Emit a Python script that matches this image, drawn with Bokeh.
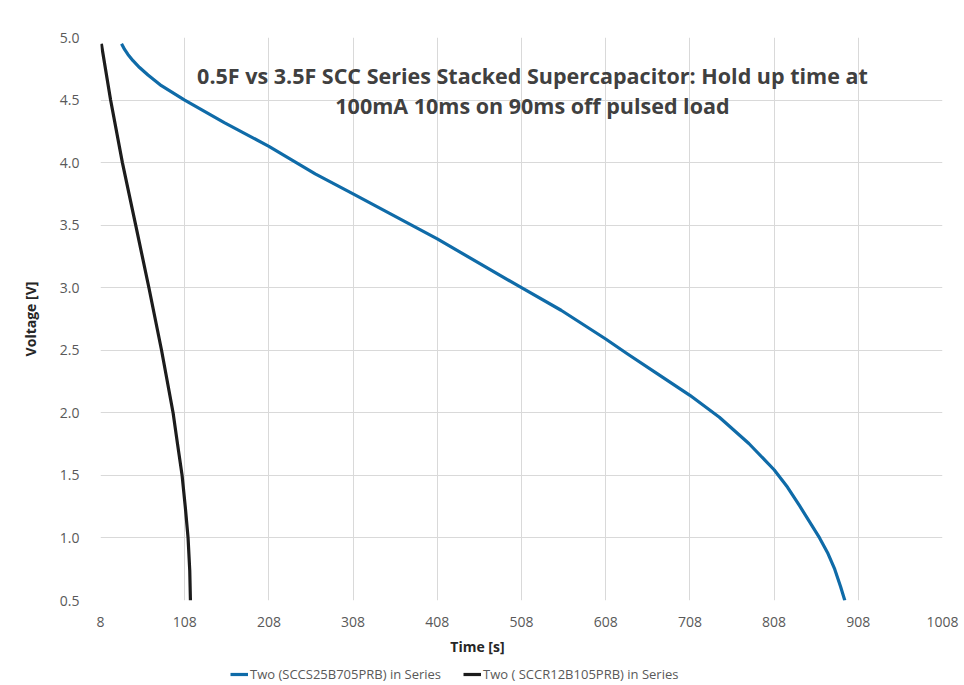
from bokeh.plotting import figure
from bokeh.layouts import column
from bokeh.models import Range1d, FixedTicker, PrintfTickFormatter, Legend, LegendItem, Label
from bokeh.embed import file_html
from bokeh.resources import INLINE

# ---- data ----
blue_t = [33.0, 36.6, 40.6, 46.6, 54.4, 64.4, 80.3, 108, 155, 208, 263, 308, 408, 508, 555, 608,
          634, 670, 708, 743, 778, 808, 824, 838, 862, 872, 880, 887, 892]
blue_v = [4.95, 4.905, 4.865, 4.815, 4.76, 4.70, 4.615, 4.50, 4.32, 4.13, 3.91, 3.75, 3.39, 3.00, 2.82, 2.59,
          2.47, 2.31, 2.14, 1.965, 1.755, 1.545, 1.405, 1.26, 1.00, 0.875, 0.75, 0.61, 0.50]

black_t = [9.0, 20.0, 34.0, 49.8, 65.5, 80.5, 94.2, 99.5, 104.9, 108.8, 112.0, 114.0, 114.8]
black_v = [4.95, 4.50, 4.00, 3.50, 3.00, 2.50, 2.00, 1.75, 1.50, 1.24, 1.00, 0.74, 0.50]

x_ticks = [8, 108, 208, 308, 408, 508, 608, 708, 808, 908, 1008]
y_ticks = [0.5, 1.0, 1.5, 2.0, 2.5, 3.0, 3.5, 4.0, 4.5, 5.0]

blue_name = "Two (SCCS25B705PRB) in Series"
black_name = "Two ( SCCR12B105PRB) in Series"
title1 = "0.5F vs 3.5F SCC Series Stacked Supercapacitor: Hold up time at"
title2 = "100mA 10ms on 90ms off pulsed load"
x_label = "Time [s]"
y_label = "Voltage [V]"

FONT = "Open Sans"
BLUE = "#0f6ba8"
BLACK = "#1c1c1c"

# ---------------- main chart ----------------
p = figure(width=964, height=634, output_backend="svg", toolbar_location=None,
           x_range=Range1d(8, 1008), y_range=Range1d(0.5, 5.0),
           min_border_left=100, min_border_right=22, min_border_top=37, min_border_bottom=34)
p.outline_line_color = None
p.background_fill_color = "white"
p.border_fill_color = "white"

for ax in (p.xaxis[0], p.yaxis[0]):
    ax.axis_line_color = None
    ax.major_tick_line_color = None
    ax.minor_tick_line_color = None
    ax.major_label_text_font = FONT
    ax.major_label_text_font_size = "14px"
    ax.major_label_text_color = "#595959"

p.xaxis[0].ticker = FixedTicker(ticks=x_ticks)
p.yaxis[0].ticker = FixedTicker(ticks=y_ticks)
p.yaxis[0].formatter = PrintfTickFormatter(format="%.1f")
p.xaxis[0].major_label_standoff = 10
p.yaxis[0].major_label_standoff = 15

p.yaxis[0].axis_label = y_label
p.yaxis[0].axis_label_text_font = FONT
p.yaxis[0].axis_label_text_font_style = "bold"
p.yaxis[0].axis_label_text_font_size = "14px"
p.yaxis[0].axis_label_text_color = "#262626"
p.yaxis[0].axis_label_standoff = 17

p.xgrid[0].ticker = FixedTicker(ticks=x_ticks)
p.ygrid[0].ticker = FixedTicker(ticks=y_ticks)
for g in (p.xgrid[0], p.ygrid[0]):
    g.grid_line_color = "#d9d9d9"
    g.grid_line_width = 1

p.line(blue_t, blue_v, line_color=BLUE, line_width=3.2, line_join="round")
p.line(black_t, black_v, line_color=BLACK, line_width=3.2, line_join="round")

for txt, yv in ((title1, 4.70), (title2, 4.46)):
    p.add_layout(Label(x=521, y=yv, text=txt, text_align="center", text_baseline="middle",
                       text_font=FONT, text_font_style="bold", text_font_size="21.5px",
                       text_color="#404040"))

# ---------------- strip below: axis title + legend ----------------
# y range of the strip lies far above the data, so the legend proxies below stay out of view
q = figure(width=964, height=51, output_backend="svg", toolbar_location=None,
           x_range=Range1d(8, 1008), y_range=Range1d(100, 151),
           x_axis_type=None, y_axis_type=None,
           min_border_left=100, min_border_right=22, min_border_top=0, min_border_bottom=0)
q.outline_line_color = None
q.grid.visible = False
q.background_fill_color = "white"
q.border_fill_color = "white"

q.add_layout(Label(x=455.7, y=139, text=x_label, text_align="center", text_baseline="middle",
                   text_font=FONT, text_font_style="bold", text_font_size="14px",
                   text_color="#262626"))

lb = q.line(blue_t, blue_v, line_color=BLUE, line_width=3.2)
lk = q.line(black_t, black_v, line_color=BLACK, line_width=3.2)
legend = Legend(items=[LegendItem(label=blue_name, renderers=[lb]),
                       LegendItem(label=black_name, renderers=[lk])],
                orientation="horizontal", location=(130, 2),
                padding=0, margin=0, spacing=22, glyph_width=18, glyph_height=16,
                label_standoff=2, label_height=16,
                label_text_font=FONT, label_text_font_size="13px", label_text_color="#595959",
                background_fill_alpha=0, border_line_color=None)
q.add_layout(legend, "center")

open("out.html", "w").write(file_html(column(p, q, spacing=0), INLINE))
